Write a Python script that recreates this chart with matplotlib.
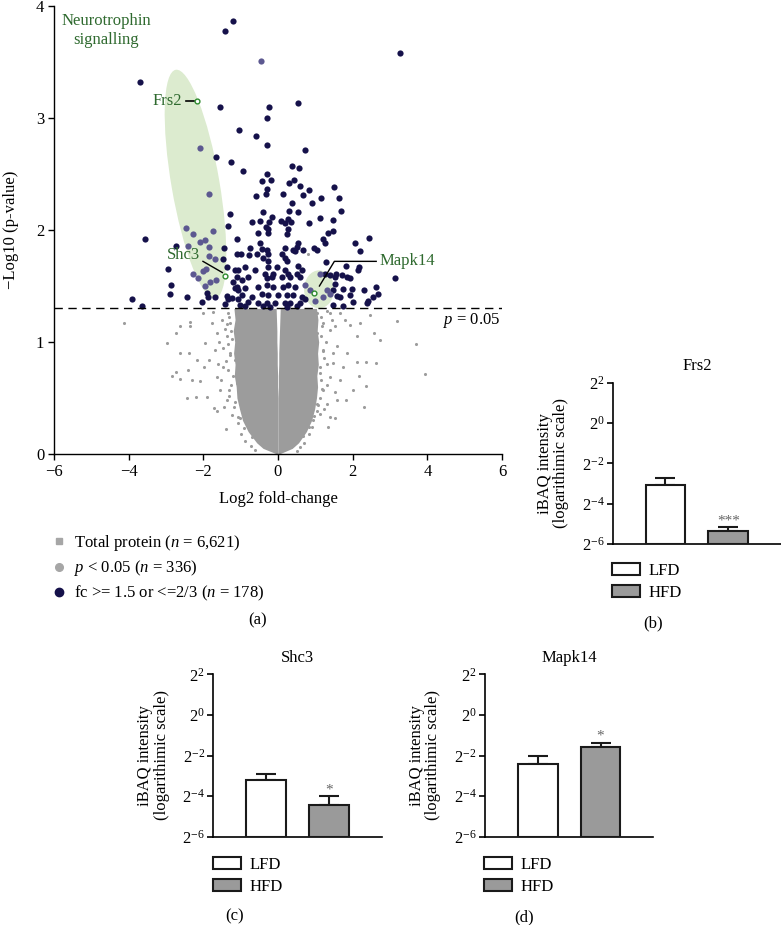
import numpy as np
import matplotlib
matplotlib.use("Agg")
import matplotlib.pyplot as plt
import matplotlib.transforms as mtransforms
from matplotlib.patches import Ellipse, Patch
from matplotlib.lines import Line2D

plt.rcParams['font.family'] = 'Liberation Serif'
plt.rcParams['mathtext.fontset'] = 'custom'
plt.rcParams['mathtext.rm'] = 'Liberation Serif'
plt.rcParams['mathtext.it'] = 'Liberation Serif:italic'

# ---- volcano data (log2 fold-change, -log10 p) ----
sig_x = [-1.20, -1.41, 3.27, -3.70, -1.56, -0.23, 0.53, -0.29, -1.05, -0.59, -0.29, 0.72,
         -1.65, -1.25, 0.38, 0.56, -0.93, -0.30, -0.20, -0.42, 0.43, 0.30, 0.58, 1.51,
         -0.29, 0.82, -0.33, 0.13, -0.59, 0.68, 1.15, 1.63, 0.38, 1.68, -0.40, 0.29,
         0.53, -1.29, -0.15, 1.13, 1.47, -0.69, -0.48, -0.25, 0.08, 0.35, 0.84, -1.35,
         -0.32, 1.47, 1.34, -3.56, -2.74, -1.44, -1.09, -0.77, 2.45, 2.06, 2.20, 0.96,
         1.82, 2.17, 3.13, -2.94, -2.87, -2.89, -3.92, -3.63, -1.37, 0.92, 0.26, 0.19,
         -0.26, 0.26, -0.53, -0.26, 0.23, -0.48, 0.54, 0.50, 1.21, -0.75, -0.44, -0.30,
         0.19, 0.41, 0.68, 1.04, -0.98, -0.57, -0.26, 0.10, 0.46, -0.39, -0.26, 0.19,
         0.23, -0.88, -0.26, -0.03, 0.54, -1.06, -0.62, 0.19, 0.28, -0.35, -0.13, 0.50,
         0.63, -0.80, -0.97, -0.30, -0.17, 0.10, 0.32, 0.59, -1.11, -0.88, -0.53, -0.30,
         -0.13, 0.14, 0.28, 0.46, -0.97, -0.70, -0.44, -0.26, 0.01, 0.23, 0.41, 0.63,
         -0.80, -0.53, -0.30, -0.08, 0.19, 0.32, 0.59, -0.88, -0.39, -0.21, 0.23, 0.50,
         -1.11, -1.48, -1.15, -1.11, -1.20, -1.15, -2.45, -1.87, -1.89, -1.69, -1.37, -1.24,
         -1.06, -2.04, -1.42, -1.33, -1.06, 1.27, 1.28, 1.55, 2.13, 1.93, 1.84, 1.26,
         1.39, 1.53, 1.71, 1.53, 1.75, 1.97, 2.31, 2.63, 2.69, 2.55, 1.48, 1.57,
         1.66, 1.93, 2.42, 2.38, 2.02, 1.75, 1.48, -1.03, 0.72]
sig_y = [3.87, 3.78, 3.58, 3.32, 3.10, 3.10, 3.13, 3.00, 2.89, 2.84, 2.76, 2.71,
         2.65, 2.61, 2.57, 2.55, 2.53, 2.50, 2.45, 2.44, 2.45, 2.42, 2.39, 2.38,
         2.37, 2.36, 2.32, 2.32, 2.30, 2.31, 2.29, 2.29, 2.24, 2.17, 2.16, 2.17,
         2.16, 2.14, 2.12, 2.11, 2.09, 2.07, 2.08, 2.07, 2.08, 2.07, 2.06, 2.04,
         2.03, 1.99, 1.97, 1.92, 1.86, 1.84, 1.92, 1.78, 1.93, 1.88, 1.81, 1.84,
         1.68, 1.67, 1.57, 1.65, 1.51, 1.43, 1.38, 1.32, 1.67, 2.24, 2.10, 2.06,
         2.01, 2.01, 1.97, 1.97, 1.96, 1.88, 1.88, 1.85, 1.92, 1.84, 1.83, 1.82,
         1.84, 1.82, 1.82, 1.82, 1.79, 1.79, 1.79, 1.79, 1.81, 1.75, 1.72, 1.75,
         1.72, 1.67, 1.67, 1.67, 1.68, 1.64, 1.64, 1.64, 1.61, 1.61, 1.61, 1.61,
         1.64, 1.58, 1.55, 1.57, 1.58, 1.58, 1.58, 1.58, 1.49, 1.48, 1.49, 1.51,
         1.49, 1.49, 1.51, 1.49, 1.42, 1.40, 1.43, 1.42, 1.42, 1.42, 1.42, 1.40,
         1.36, 1.35, 1.35, 1.35, 1.35, 1.35, 1.35, 1.32, 1.32, 1.31, 1.31, 1.32,
         1.79, 1.74, 1.64, 1.58, 1.54, 1.48, 1.40, 1.40, 1.44, 1.40, 1.41, 1.39,
         1.46, 1.36, 1.34, 1.38, 1.38, 1.88, 1.71, 1.61, 1.64, 1.57, 1.58, 1.61,
         1.60, 1.58, 1.60, 1.52, 1.47, 1.47, 1.46, 1.49, 1.43, 1.40, 1.46, 1.41,
         1.40, 1.42, 1.37, 1.35, 1.36, 1.32, 1.33, 1.33, 1.38]

# proteins of the neurotrophin pathway (shaded)
neuro_x = [-2.10, -1.84, -2.46, -1.73, -2.27, -2.09, -1.95, -2.40, -1.84, -1.84, -1.70,
           -2.27, -2.13, -1.93, -2.02, -1.82, -1.65, -1.96, 0.86, 0.99, 1.13, 0.72,
           1.31, 1.39, 1.21, -0.46]
neuro_y = [2.73, 2.32, 2.02, 1.99, 1.96, 1.89, 1.91, 1.86, 1.85, 1.77, 1.74,
           1.61, 1.57, 1.65, 1.63, 1.54, 1.55, 1.50, 1.46, 1.37, 1.61, 1.51,
           1.46, 1.43, 1.40, 3.51]

# sparse non-significant proteins
ns_x = [-4.12, 3.18, 3.69, 3.94, 2.30, 2.63, 2.73, 2.58, 2.36, 2.36, 2.18, 2.11, 1.86,
        2.02, 1.82, 2.11, 1.93, 2.46, 2.20, 1.53, 1.35, 1.66, 1.75, 1.57, 1.39, 1.21,
        1.66, -2.98, -2.73, -2.62, -2.36, -2.36, -2.85, -2.73, -2.45, -2.20, -2.40,
        -2.31, -2.62, -2.38, -2.18, -2.09, -1.91, -1.71, -1.64, -1.39, -1.95, -1.86,
        -1.99, -1.69, -1.78, -2.00, -1.64, -1.51, -1.64, -1.55, -1.46, -1.37, -1.29,
        -1.37, -1.29, -1.33, 0.77, 1.04, 1.21, 1.13, 1.39, 1.21, 1.30, 1.13, 0.90,
        0.95, 0.86, 1.48, 1.57, 1.39, 0.86, 1.04, 0.77, 1.53, 1.80, 1.39, 1.04,
        -1.11, -1.07, -1.02, -1.15, -1.11, -0.93, -1.73, -2.62, 0.80,
        -1.30, -1.26, -1.34, -1.28, -1.33, -1.27, -1.30, -1.18, -1.08, -0.98, -0.88,
        -1.22, -1.42, -1.47, -1.52, -1.44, -1.57, -1.61, -0.72, -0.62,
        1.16, 1.14, 1.21, 1.16, 1.12, 1.04, 0.94, 0.84, 0.70, 1.28, 1.32, 1.30,
        1.22, 1.46, 1.52, 1.44, 1.32, 0.98, 0.60, 0.52,
        -1.36, -1.24, -1.40, -1.21, -1.31, -1.14, -1.02, -0.90, -0.70,
        1.18, 1.24, 1.12, 1.19, 1.08, 0.96, 0.82, 0.66]
ns_y = [1.17, 1.19, 0.98, 0.71, 0.42, 0.81, 1.02, 1.08, 0.82, 0.61, 0.70, 0.82, 0.90,
        0.57, 0.48, 1.05, 1.15, 1.24, 1.17, 0.32, 0.24, 0.66, 0.78, 0.96, 1.11, 1.17,
        1.26, 0.99, 1.08, 1.14, 1.18, 1.14, 0.70, 0.73, 0.50, 0.51, 0.75,
        0.66, 0.90, 0.90, 0.84, 0.65, 0.51, 0.41, 0.38, 0.22, 0.99, 0.84,
        0.78, 0.93, 1.17, 1.26, 1.08, 1.20, 0.69, 0.57, 0.78, 0.48, 0.90,
        1.05, 1.17, 1.26, 1.20, 1.08, 0.93, 0.78, 0.69, 0.57, 0.45, 0.36, 0.24,
        0.84, 0.99, 0.81, 0.48, 0.33, 0.63, 0.45, 0.42, 1.14, 1.20, 1.26, 1.26,
        0.63, 0.33, 1.02, 0.84, 1.20, 1.26, 1.27, 0.67, 1.79,
        1.22, 1.10, 0.98, 0.88, 0.75, 0.62, 0.52, 0.42, 0.28, 0.18, 0.12,
        0.35, 1.12, 0.95, 0.66, 0.42, 1.00, 0.80, 0.07, 0.04,
        1.22, 1.05, 0.92, 0.66, 0.50, 0.38, 0.30, 0.18, 0.10, 1.00, 0.80, 0.62,
        0.40, 0.90, 0.55, 1.20, 1.28, 1.27, 0.06, 0.03,
        1.16, 1.03, 0.83, 0.70, 0.57, 0.46, 0.32, 0.23, 0.15,
        1.14, 0.86, 0.72, 0.58, 0.44, 0.34, 0.24, 0.16]

# dense core of non-significant proteins (envelope of the cloud)
core_y = [0.0, 0.05, 0.1, 0.2, 0.3, 0.4, 0.5, 0.6, 0.7, 0.8, 0.9, 1.0, 1.1, 1.2, 1.3]
core_left_outer = [-0.03, -0.40, -0.57, -0.80, -0.95, -1.03, -1.10, -1.12, -1.17, -1.15,
                   -1.19, -1.16, -1.20, -1.15, -1.18]
core_left_inner = [0.0, 0.0, 0.0, 0.0, 0.0, 0.0, 0.0, -0.01, -0.01, -0.02, -0.02, -0.03,
                   -0.03, -0.04, -0.05]
core_right_inner = [0.0, 0.0, 0.0, 0.0, 0.0, 0.0, 0.0, 0.01, 0.01, 0.02, 0.02, 0.03,
                    0.04, 0.05, 0.06]
core_right_outer = [0.03, 0.38, 0.55, 0.76, 0.90, 0.98, 1.03, 1.06, 1.04, 1.08, 1.06,
                    1.09, 1.05, 1.07, 1.03]

hits = ['Frs2', 'Shc3', 'Mapk14']
hit_x = [-2.16, -1.41, 0.97]
hit_y = [3.15, 1.59, 1.44]

# ---- iBAQ intensity bars ----
groups = ['LFD', 'HFD']
frs2_mean = [0.119, 0.0242]
frs2_sem = [0.034, 0.0036]
shc3_mean = [0.109, 0.0467]
shc3_sem = [0.024, 0.0158]
mapk14_mean = [0.187, 0.335]
mapk14_sem = [0.060, 0.049]
frs2_stars = ['', '***']
shc3_stars = ['', '*']
mapk14_stars = ['', '*']

NAVY = '#15114a'
LAV = '#5c5890'
GREY = '#9c9c9c'
GREEN = '#2f6a2f'
FS = 12
W, H = 781, 925

fig = plt.figure(figsize=(W / 100, H / 100), dpi=100)


def rect(x0, y0, x1, y1):
    # pixel box -> figure fraction
    return [x0 / W, 1 - y1 / H, (x1 - x0) / W, (y1 - y0) / H]


# ---------------- (a) volcano ----------------
ax = fig.add_axes(rect(54, 6, 502, 454))
ax.fill_betweenx(core_y, core_left_outer, core_left_inner, color=GREY, lw=0, zorder=1)
ax.fill_betweenx(core_y, core_right_inner, core_right_outer, color=GREY, lw=0, zorder=1)
ax.scatter(ns_x, ns_y, s=5, color=GREY, lw=0, zorder=1)

big = Ellipse((0, 0), width=0.48, height=2.32, angle=9.8, fc='#dcebcf', ec='none', zorder=2,
              transform=fig.dpi_scale_trans + mtransforms.ScaledTranslation(-2.21, 2.41, ax.transData))
small = Ellipse((0, 0), width=0.30, height=0.38, angle=0, fc='#dcebcf', ec='none', zorder=2,
                transform=fig.dpi_scale_trans + mtransforms.ScaledTranslation(1.10, 1.47, ax.transData))
ax.add_patch(big)
ax.add_patch(small)

ax.scatter(sig_x, sig_y, s=20, color=NAVY, lw=0, zorder=3)
ax.scatter(neuro_x, neuro_y, s=20, color=LAV, lw=0, zorder=3)
ax.scatter(hit_x, hit_y, s=12, facecolor='white', edgecolor='#2e8b2e', lw=1.0, zorder=5)

ax.axhline(-np.log10(0.05), color='black', lw=1.0, ls=(0, (6, 4)), zorder=4)
ax.text(5.95, 1.19, r'$\mathit{p}$ = 0.05', ha='right', va='center', fontsize=FS)

# labels of the highlighted proteins
ax.text(-2.57, 3.15, 'Frs2', color=GREEN, ha='right', va='center', fontsize=FS)
ax.plot([-2.47, -2.25], [3.15, 3.15], color='black', lw=1.2, zorder=4)
ax.text(-2.09, 1.78, 'Shc3', color=GREEN, ha='right', va='center', fontsize=FS)
ax.plot([-2.01, -1.49], [1.72, 1.62], color='black', lw=1.0, zorder=4)
ax.text(2.73, 1.72, 'Mapk14', color=GREEN, ha='left', va='center', fontsize=FS)
ax.plot([1.11, 1.51, 2.63], [1.50, 1.72, 1.72], color='black', lw=1.0, zorder=4)
ax.text(-4.61, 3.78, 'Neurotrophin\nsignalling', color=GREEN, ha='center', va='center',
        fontsize=FS, linespacing=1.2)

ax.set_xlim(-6, 6)
ax.set_ylim(0, 4)
ax.set_xticks([-6, -4, -2, 0, 2, 4, 6])
ax.set_yticks([0, 1, 2, 3, 4])
ax.set_xticklabels(['\u22126', '\u22124', '\u22122', '0', '2', '4', '6'])
for s in ['top', 'right']:
    ax.spines[s].set_visible(False)
for s in ['left', 'bottom']:
    ax.spines[s].set_linewidth(1.0)
ax.tick_params(direction='out', length=4, width=1.0, labelsize=FS, pad=3)
ax.set_xlabel('Log2 fold-change', fontsize=FS, labelpad=8)
ax.set_ylabel('\u2212Log10 (p-value)', fontsize=FS, labelpad=12)

handles = [Line2D([], [], marker='s', color='#a6a6a6', ls='none', markersize=5),
           Line2D([], [], marker='o', color='#a6a6a6', ls='none', markersize=5.5),
           Line2D([], [], marker='o', color=NAVY, ls='none', markersize=6)]
labels = [r'Total protein ($\mathit{n}$ = 6,621)',
          r'$\mathit{p}$ < 0.05 ($\mathit{n}$ = 336)',
          r'fc >= 1.5 or <=2/3 ($\mathit{n}$ = 178)']
fig.legend(handles, labels, loc='upper left', bbox_to_anchor=(51 / W, 1 - 533 / H),
           frameon=False, fontsize=FS, handlelength=0.9, handletextpad=0.45,
           labelspacing=0.33, borderpad=0, borderaxespad=0)
fig.text(258 / W, 1 - 620 / H, '(a)', ha='center', va='center', fontsize=FS)


# ---------------- bar panels ----------------
def bar_panel(box, title, means, sems, stars, tag, tag_xy, leg_xy):
    bx = fig.add_axes(rect(*box))
    pos = np.arange(len(groups)) + 1
    base = 2.0 ** -6
    bx.bar(pos, np.array(means) - base, bottom=base, width=0.63, color=['white', '#9a9a9a'],
           edgecolor='#1a1a1a', linewidth=1.5, zorder=3)
    bx.errorbar(pos, means, yerr=[np.zeros(len(sems)), sems], fmt='none', ecolor='#1a1a1a',
                elinewidth=1.5, capsize=7, capthick=1.5, zorder=2)
    for p, m, e, st in zip(pos, means, sems, stars):
        if st:
            bx.annotate(st, xy=(p, m + e), xytext=(0, 0), textcoords='offset points',
                        ha='center', va='bottom', fontsize=11, color='#666666')
    bx.set_yscale('log', base=2)
    bx.set_ylim(2.0 ** -6, 2.0 ** 2)
    bx.set_xlim(0.16, 2.84)
    ticks = [2, 0, -2, -4, -6]
    bx.set_yticks([2.0 ** k for k in ticks])
    bx.set_yticklabels([r'$2^{%d}$' % k for k in ticks])
    bx.yaxis.set_minor_locator(matplotlib.ticker.NullLocator())
    bx.set_xticks([])
    for s in ['top', 'right']:
        bx.spines[s].set_visible(False)
    for s in ['left', 'bottom']:
        bx.spines[s].set_linewidth(1.2)
    bx.tick_params(axis='y', direction='out', length=4, width=1.2, labelsize=FS, pad=2)
    bx.set_title(title, fontsize=FS, pad=9)
    bx.set_ylabel('iBAQ intensity\n(logarithimic scale)', fontsize=FS, labelpad=9, linespacing=1.05)
    leg = [Patch(facecolor='white', edgecolor='#1a1a1a', lw=1.5),
           Patch(facecolor='#9a9a9a', edgecolor='#1a1a1a', lw=1.5)]
    fig.legend(leg, groups, loc='upper left', bbox_to_anchor=(leg_xy[0] / W, 1 - leg_xy[1] / H),
               frameon=False, fontsize=FS, handlelength=1.7, handleheight=0.68,
               handletextpad=0.5, labelspacing=0.35, borderpad=0, borderaxespad=0)
    fig.text(tag_xy[0] / W, 1 - tag_xy[1] / H, tag, ha='center', va='center', fontsize=FS)
    return bx


bar_panel((612.7, 382.7, 781, 544), 'Frs2', frs2_mean, frs2_sem, frs2_stars,
          '(b)', (653, 623), (612, 563))
bar_panel((213.3, 674.3, 381.7, 836.7), 'Shc3', shc3_mean, shc3_sem, shc3_stars,
          '(c)', (235, 916), (212.5, 857))
bar_panel((485, 674.3, 653.3, 836.7), 'Mapk14', mapk14_mean, mapk14_sem, mapk14_stars,
          '(d)', (524, 917), (484, 857))

fig.savefig('out.png', dpi=100)
